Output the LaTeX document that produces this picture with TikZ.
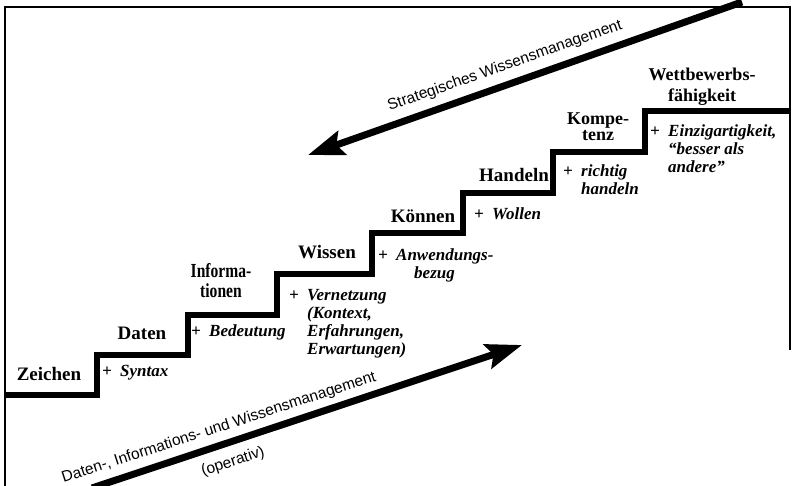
\documentclass[tikz,border=0pt]{standalone}
\usepackage{fontspec}
\setmainfont{Liberation Serif}
\setsansfont{Liberation Sans}
\usetikzlibrary{arrows.meta}
\newcommand{\descplus}{\makebox[18pt][l]{+}}
\newcommand{\descind}{\hspace*{18pt}}
\begin{document}
\begin{tikzpicture}[x=1pt,y=-1pt,
  frameline/.style={line width=2pt},
  stair/.style={line width=6.5pt, line join=miter},
  bigarrow/.style={line width=7pt, -{Stealth[length=36pt,width=25pt,inset=6pt]}},
  stepname/.style={font=\bfseries\fontsize{19}{20}\selectfont, align=center, inner sep=0pt},
  desc/.style={font=\bfseries\itshape\fontsize{17}{18}\selectfont, align=left, inner sep=0pt},
  arrowlabel/.style={font=\sffamily\fontsize{15.5}{16}\selectfont, inner sep=0pt}]
\useasboundingbox (0,0) rectangle (795,486);
\clip (0,0) rectangle (795,486);
\fill[white] (0,0) rectangle (795,486);
% frame
\draw[frameline] (5,490) -- (5,7) -- (790,7) -- (790,350);
% staircase
\draw[stair] (4,395) -- (97,395) -- (97,355) -- (188,355) -- (188,315) -- (277,315)
  -- (277,274) -- (372,274) -- (372,233) -- (463,233) -- (463,193) -- (553,193)
  -- (553,152) -- (645,152) -- (645,111) -- (791,111);
% step names
\node[stepname] (zeichen) at (49,374) {Zeichen};
\node[stepname] (daten) at (142,333) {Daten};
\node[stepname] (info) at (221,281) {\scalebox{0.82}[1.05]{Informa-}\\\scalebox{0.82}[1.05]{tionen}};
\node[stepname] (wissen) at (327,252) {Wissen};
\node[stepname] (koennen) at (423,216) {Können};
\node[stepname] (handeln) at (514,175) {Handeln};
\node[stepname, font=\bfseries\fontsize{18}{16}\selectfont] (kompetenz) at (598,127) {Kompe-\\tenz};
\node[stepname, font=\bfseries\fontsize{18}{21}\selectfont] (wettbewerb) at (702,87) {Wettbewerbs-\\fähigkeit};
% descriptions
\node[desc, anchor=west] (dsyn) at (102,373) {\descplus Syntax};
\node[desc, anchor=west] (dbed) at (191,332) {\descplus Bedeutung};
\node[desc, anchor=north west] (dver) at (289,289) {\descplus Vernetzung\\ \descind(Kontext,\\ \descind Erfahrungen,\\ \descind Erwartungen)};
\node[desc, anchor=north west] (danw) at (378,249) {\descplus Anwendungs-\\ \hspace*{36pt}bezug};
\node[desc, anchor=west] (dwol) at (474,214) {\descplus Wollen};
\node[desc, anchor=north west] (dri) at (563,165) {\descplus richtig\\ \descind handeln};
\node[desc, anchor=north west] (dein) at (650,125) {\descplus Einzigartigkeit,\\ \descind “besser als\\ \descind andere”};
% arrows
\coordinate (sA) at (742,2);
\coordinate (sB) at (308,155);
\draw[bigarrow] (sA) -- (sB);
\coordinate (oA) at (92,488);
\coordinate (oB) at (522,345);
\draw[bigarrow] (oA) -- (oB);
\node[arrowlabel, rotate=19.4] (lstrat) at (505,66) {Strategisches Wissensmanagement};
\node[arrowlabel, rotate=18] (lop) at (219,428) {Daten-, Informations- und Wissensmanagement};
\node[arrowlabel, rotate=18] (lop2) at (233,462) {(operativ)};
\end{tikzpicture}
\end{document}
